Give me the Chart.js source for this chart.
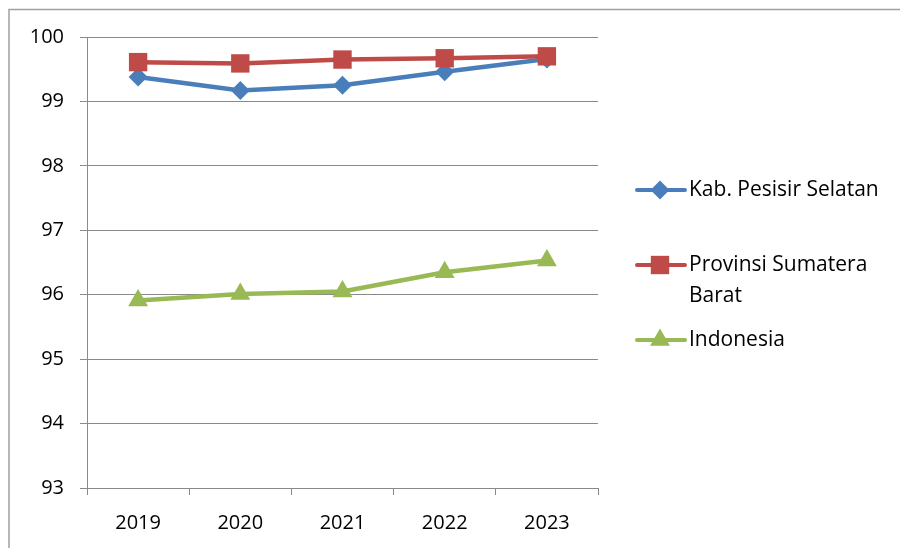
<!DOCTYPE html>
<html lang="id">
<head>
    <meta charset="UTF-8">
    <title>Grafik Indikator 2019-2023</title>
    <script src="https://cdn.jsdelivr.net/npm/chart.js"></script>
    <style>
        body {
            margin: 0;
            background: #ffffff;
        }
        .wrap {
            width: 900px;
            height: 548px;
            position: relative;
        }
    </style>
</head>
<body>
    <div class="wrap">
        <canvas id="lineChart" width="900" height="548"></canvas>
    </div>

    <script>
        const years = ["2019", "2020", "2021", "2022", "2023"];
        const pesisirSelatan = [99.38, 99.17, 99.25, 99.46, 99.66];
        const sumateraBarat = [99.61, 99.59, 99.65, 99.67, 99.70];
        const indonesia = [95.91, 96.01, 96.05, 96.35, 96.53];
        const seriesNames = ["Kab. Pesisir Selatan", ["Provinsi Sumatera", "Barat"], "Indonesia"];

        const FONT = "'Open Sans', Lato, sans-serif";
        const GRID = "#8a8a8a";

        // frame round the chart: only top and left edges show in the crop
        const framePlugin = {
            id: "frame",
            beforeDraw(chart) {
                const c = chart.ctx;
                c.save();
                c.strokeStyle = "#a0a0a0";
                c.lineWidth = 1.5;
                c.beginPath();
                c.moveTo(9, 548);
                c.lineTo(9, 9.5);
                c.lineTo(900, 9.5);
                c.stroke();
                c.restore();
            }
        };

        // legend on the right side, drawn by hand so a label can wrap
        const sideLegend = {
            id: "sideLegend",
            afterDraw(chart) {
                const c = chart.ctx;
                const rows = [190, 265, 340];
                c.save();
                chart.data.datasets.forEach((ds, i) => {
                    const y = rows[i];
                    c.strokeStyle = ds.borderColor;
                    c.lineWidth = 4;
                    c.lineCap = "round";
                    c.beginPath();
                    c.moveTo(637, y);
                    c.lineTo(685, y);
                    c.stroke();
                    c.fillStyle = ds.pointBackgroundColor;
                    Chart.helpers.drawPoint(c, {
                        pointStyle: ds.pointStyle,
                        radius: ds.pointRadius,
                        rotation: 0,
                        borderWidth: 0
                    }, 660, y);
                    c.fillStyle = "#000000";
                    c.font = "21px " + FONT;
                    c.textBaseline = "middle";
                    c.textAlign = "left";
                    const lines = [].concat(seriesNames[i]);
                    lines.forEach((t, k) => c.fillText(t, 689, y + k * 31));
                });
                c.restore();
            }
        };

        function series(label, data, color, style, radius, order) {
            return {
                label: label,
                data: data,
                borderColor: color,
                backgroundColor: color,
                pointBackgroundColor: color,
                pointBorderColor: color,
                pointBorderWidth: 0,
                pointStyle: style,
                pointRadius: radius,
                borderWidth: 4.5,
                tension: 0,
                order: order
            };
        }

        new Chart(document.getElementById("lineChart"), {
            type: "line",
            data: {
                labels: years,
                datasets: [
                    series("Kab. Pesisir Selatan", pesisirSelatan, "#4a7ebb", "rectRot", 9.5, 3),
                    series("Provinsi Sumatera Barat", sumateraBarat, "#be4b48", "rect", 13, 2),
                    series("Indonesia", indonesia, "#98b954", "triangle", 11.5, 1)
                ]
            },
            options: {
                responsive: false,
                animation: false,
                layout: { padding: { left: 0, right: 302, top: 37, bottom: 10 } },
                plugins: {
                    legend: { display: false },
                    tooltip: { enabled: false }
                },
                scales: {
                    x: {
                        offset: true,
                        grid: {
                            offset: true,
                            drawOnChartArea: false,
                            drawTicks: true,
                            tickLength: 7,
                            color: GRID
                        },
                        border: { color: GRID, width: 1 },
                        ticks: {
                            color: "#000000",
                            padding: 16,
                            font: { family: FONT, size: 20 }
                        },
                        afterFit(s) { s.height = 50; }
                    },
                    y: {
                        min: 93,
                        max: 100,
                        grid: {
                            color: GRID,
                            tickLength: 7,
                            lineWidth: 1
                        },
                        border: { color: GRID, width: 1 },
                        ticks: {
                            stepSize: 1,
                            color: "#000000",
                            padding: 16,
                            font: { family: FONT, size: 20 }
                        },
                        afterFit(s) { s.width = 87; }
                    }
                }
            },
            plugins: [framePlugin, sideLegend]
        });
    </script>
</body>
</html>
